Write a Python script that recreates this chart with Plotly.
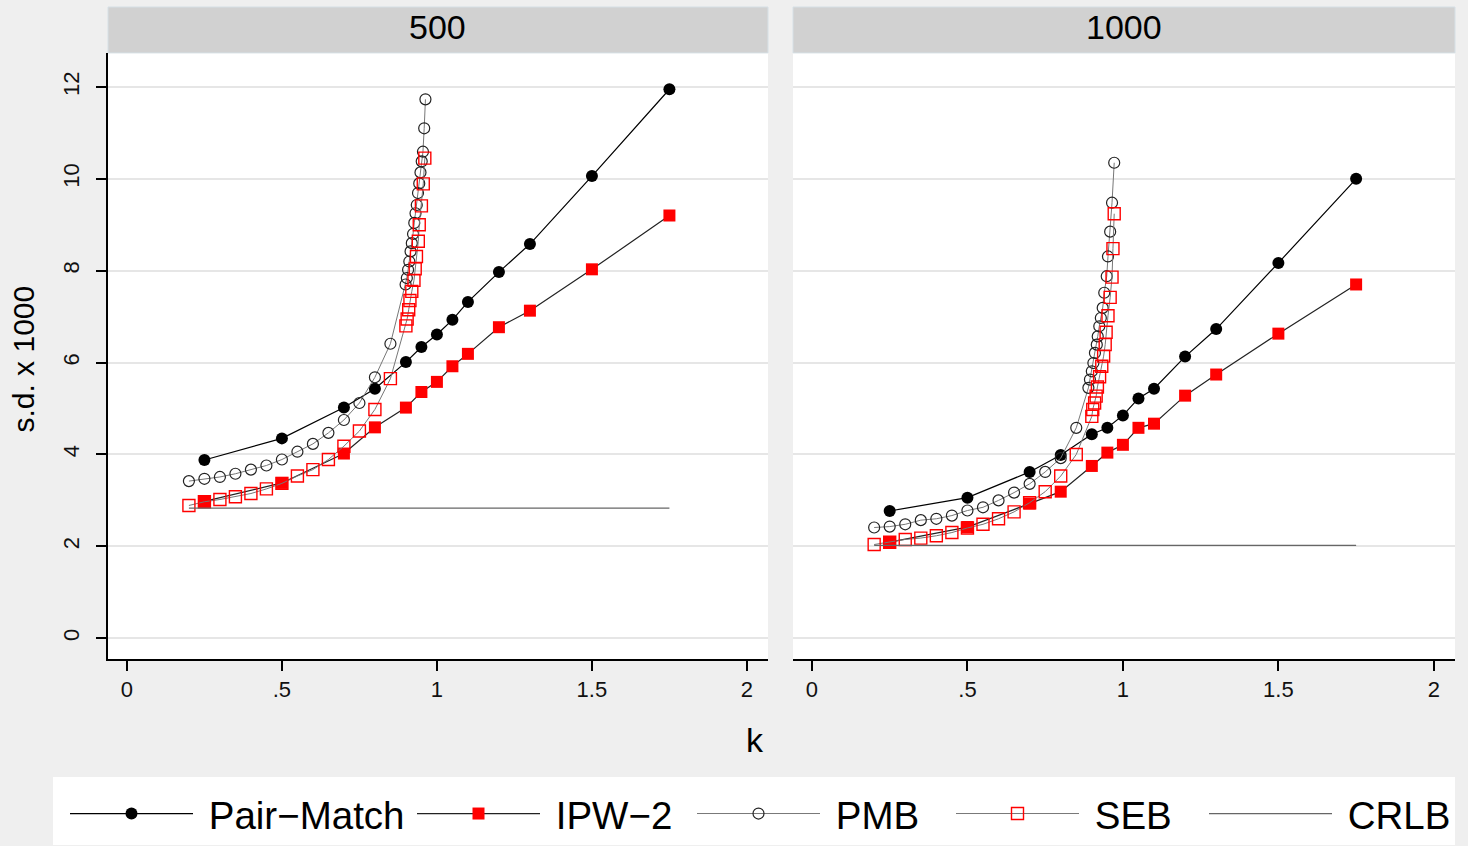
import plotly.graph_objects as go

# ---------------- data ----------------
k_main = [0.25, 0.5, 0.7, 0.8, 0.9, 0.95, 1.0, 1.05, 1.1, 1.2, 1.3, 1.5, 1.75]

pm_500 = [3.88, 4.35, 5.02, 5.43, 6.01, 6.34, 6.61, 6.93, 7.32, 7.97, 8.58, 10.06, 11.95]
ipw_500 = [2.98, 3.38, 4.02, 4.59, 5.02, 5.36, 5.58, 5.92, 6.19, 6.77, 7.13, 8.03, 9.20]
pm_1000 = [2.77, 3.06, 3.62, 3.99, 4.44, 4.58, 4.85, 5.22, 5.43, 6.13, 6.73, 8.17, 10.00]
ipw_1000 = [2.09, 2.42, 2.93, 3.19, 3.75, 4.04, 4.21, 4.58, 4.67, 5.28, 5.74, 6.63, 7.70]

k_pmb_500 = [0.2, 0.25, 0.3, 0.35, 0.4, 0.45, 0.5, 0.55, 0.6, 0.65, 0.7, 0.75, 0.8, 0.85,
             0.899, 0.903, 0.907, 0.911, 0.915, 0.919, 0.923, 0.927, 0.931, 0.935,
             0.939, 0.943, 0.947, 0.951, 0.955, 0.959, 0.963]
pmb_500 = [3.42, 3.47, 3.51, 3.58, 3.67, 3.76, 3.89, 4.06, 4.23, 4.47, 4.75, 5.12, 5.68, 6.41,
           7.70, 7.84, 8.02, 8.20, 8.42, 8.60, 8.80, 9.04, 9.25, 9.43,
           9.69, 9.90, 10.14, 10.38, 10.59, 11.10, 11.73]

k_seb_500 = [0.2, 0.25, 0.3, 0.35, 0.4, 0.45, 0.5, 0.55, 0.6, 0.65, 0.7, 0.75, 0.8, 0.85,
             0.900, 0.904, 0.909, 0.913, 0.919, 0.926, 0.930, 0.934, 0.940, 0.943,
             0.950, 0.956, 0.961]
seb_500 = [2.89, 2.97, 3.02, 3.08, 3.15, 3.25, 3.37, 3.53, 3.67, 3.89, 4.18, 4.51, 4.98, 5.65,
           6.80, 6.95, 7.15, 7.35, 7.55, 7.79, 8.04, 8.31, 8.64, 9.00,
           9.41, 9.89, 10.45]

k_pmb_1000 = [0.2, 0.25, 0.3, 0.35, 0.4, 0.45, 0.5, 0.55, 0.6, 0.65, 0.7, 0.75, 0.8, 0.85,
              0.889, 0.894, 0.900, 0.905, 0.910, 0.916, 0.919, 0.924, 0.929, 0.935,
              0.940, 0.948, 0.952, 0.959, 0.965, 0.972]
pmb_1000 = [2.41, 2.43, 2.48, 2.57, 2.60, 2.67, 2.78, 2.85, 3.00, 3.17, 3.36, 3.62, 3.92, 4.58,
            5.45, 5.63, 5.81, 5.99, 6.21, 6.39, 6.57, 6.79, 6.97, 7.19,
            7.52, 7.88, 8.31, 8.85, 9.48, 10.35]

k_seb_1000 = [0.2, 0.25, 0.3, 0.35, 0.4, 0.45, 0.5, 0.55, 0.6, 0.65, 0.7, 0.75, 0.8, 0.85,
              0.900, 0.903, 0.909, 0.914, 0.918, 0.925, 0.932, 0.938, 0.943, 0.946,
              0.952, 0.959, 0.965, 0.968, 0.972]
seb_1000 = [2.04, 2.09, 2.15, 2.18, 2.23, 2.30, 2.40, 2.48, 2.60, 2.75, 2.95, 3.19, 3.53, 4.00,
            4.83, 4.98, 5.12, 5.27, 5.47, 5.69, 5.92, 6.14, 6.39, 6.66,
            7.02, 7.42, 7.86, 8.48, 9.24]

k_crlb = [0.2, 1.75]
crlb_500 = [2.83, 2.83]
crlb_1000 = [2.02, 2.02]

series_names = ["Pair\u2212Match", "IPW\u22122", "PMB", "SEB", "CRLB"]
panel_titles = ["500", "1000"]
x_tickvals = [0, 0.5, 1, 1.5, 2]
x_ticktext = ["0", ".5", "1", "1.5", "2"]
y_tickvals = [0, 2, 4, 6, 8, 10, 12]

# ---------------- figure ----------------
W, H = 1468, 846
FONT = "Liberation Sans, Arial, sans-serif"
NB = "\u00a0"

def px_x(p):
    return p / W

def px_y(p):
    return (H - p) / H

fig = go.Figure()

legend_ids = ["legend", "legend2", "legend3", "legend4", "legend5"]

panels = [
    ("x", "y", pm_500, ipw_500, k_pmb_500, pmb_500, k_seb_500, seb_500, crlb_500, True),
    ("x2", "y2", pm_1000, ipw_1000, k_pmb_1000, pmb_1000, k_seb_1000, seb_1000, crlb_1000, False),
]

for xa, ya, pm, ipw, kp, pmb, ks, seb, crlb, show in panels:
    fig.add_trace(go.Scatter(x=k_main, y=pm, mode="lines+markers", name=NB + series_names[0],
                             line=dict(color="black", width=1.2),
                             marker=dict(symbol="circle", size=12, color="black"),
                             xaxis=xa, yaxis=ya, showlegend=show, legend=legend_ids[0]))
    fig.add_trace(go.Scatter(x=k_main, y=ipw, mode="lines+markers", name=NB + series_names[1],
                             line=dict(color="#222222", width=1.2),
                             marker=dict(symbol="square", size=12, color="#ff0000"),
                             xaxis=xa, yaxis=ya, showlegend=show, legend=legend_ids[1]))
    fig.add_trace(go.Scatter(x=kp, y=pmb, mode="lines+markers", name=NB + series_names[2],
                             line=dict(color="#777777", width=1),
                             marker=dict(symbol="circle-open", size=11, color="#222222",
                                         line=dict(width=1.2)),
                             xaxis=xa, yaxis=ya, showlegend=show, legend=legend_ids[2]))
    fig.add_trace(go.Scatter(x=ks, y=seb, mode="lines+markers", name=NB + series_names[3],
                             line=dict(color="#777777", width=1),
                             marker=dict(symbol="square-open", size=12, color="#ff0000",
                                         line=dict(width=1.4)),
                             xaxis=xa, yaxis=ya, showlegend=show, legend=legend_ids[3]))
    fig.add_trace(go.Scatter(x=k_crlb, y=crlb, mode="lines", name=NB + series_names[4],
                             line=dict(color="#666666", width=1.2),
                             xaxis=xa, yaxis=ya, showlegend=show, legend=legend_ids[4]))

left_dom = [px_x(108), px_x(768)]
right_dom = [px_x(793), px_x(1455)]
y_dom = [px_y(660), px_y(53)]

xcommon = dict(range=[-0.061, 2.068], tickvals=x_tickvals, ticktext=x_ticktext,
               ticks="outside", ticklen=10, tickwidth=1.5, tickcolor="black",
               showline=True, linecolor="black", linewidth=1.5, showgrid=False,
               zeroline=False, tickfont=dict(family=FONT, size=22, color="#111111"))
ycommon = dict(range=[-0.457, 12.74], tickvals=y_tickvals, showgrid=True,
               gridcolor="#e6e6e6", gridwidth=1.5, zeroline=False)

legend_x_px = [65, 412, 692, 951, 1204]
legend_common = dict(orientation="h", xanchor="left", y=px_y(815), yanchor="middle",
                     bgcolor="rgba(0,0,0,0)", itemwidth=123,
                     font=dict(family=FONT, size=38.5, color="black"),
                     itemclick=False, itemdoubleclick=False)
legend_layout = {lid: dict(x=px_x(xp), **legend_common)
                 for lid, xp in zip(legend_ids, legend_x_px)}

fig.update_layout(
    width=W, height=H,
    margin=dict(l=0, r=0, t=0, b=0),
    paper_bgcolor="#efefef",
    plot_bgcolor="white",
    font=dict(family=FONT, color="black"),
    xaxis=dict(domain=left_dom, anchor="y", **xcommon),
    xaxis2=dict(domain=right_dom, anchor="y2", **xcommon),
    yaxis=dict(domain=y_dom, anchor="x", ticks="outside", ticklen=10, tickwidth=1.5,
               tickcolor="black", showline=True, linecolor="black", linewidth=1.5,
               tickangle=-90, ticklabelstandoff=8,
               tickfont=dict(family=FONT, size=22, color="#111111"),
               **ycommon),
    yaxis2=dict(domain=y_dom, anchor="x2", matches="y", showticklabels=False,
                ticks="", showline=False, **ycommon),
    showlegend=True,
    **legend_layout,
)

# strips
for dom, title in zip([left_dom, right_dom], panel_titles):
    fig.add_shape(type="rect", xref="paper", yref="paper", x0=dom[0], x1=dom[1],
                  y0=px_y(53), y1=px_y(7), fillcolor="#d1d1d1",
                  line=dict(color="#d6e0e6", width=1), layer="below")
    fig.add_annotation(xref="paper", yref="paper", x=(dom[0] + dom[1]) / 2, y=px_y(27),
                       xanchor="center", yanchor="middle",
                       text=title, showarrow=False,
                       font=dict(family=FONT, size=34, color="black"))

# legend box
fig.add_shape(type="rect", xref="paper", yref="paper", x0=px_x(53), x1=px_x(1455),
              y0=0, y1=px_y(778), fillcolor="white", line=dict(width=0), layer="below")

# axis titles
fig.add_annotation(xref="paper", yref="paper", x=px_x(755), y=px_y(741), text="k",
                   xanchor="center", yanchor="middle",
                   showarrow=False, font=dict(family=FONT, size=34, color="black"))
fig.add_annotation(xref="paper", yref="paper", x=px_x(24), y=px_y(360), text="s.d. x 1000",
                   xanchor="center", yanchor="middle",
                   textangle=-90, showarrow=False,
                   font=dict(family=FONT, size=30, color="black"))

fig.write_html("out.html")
